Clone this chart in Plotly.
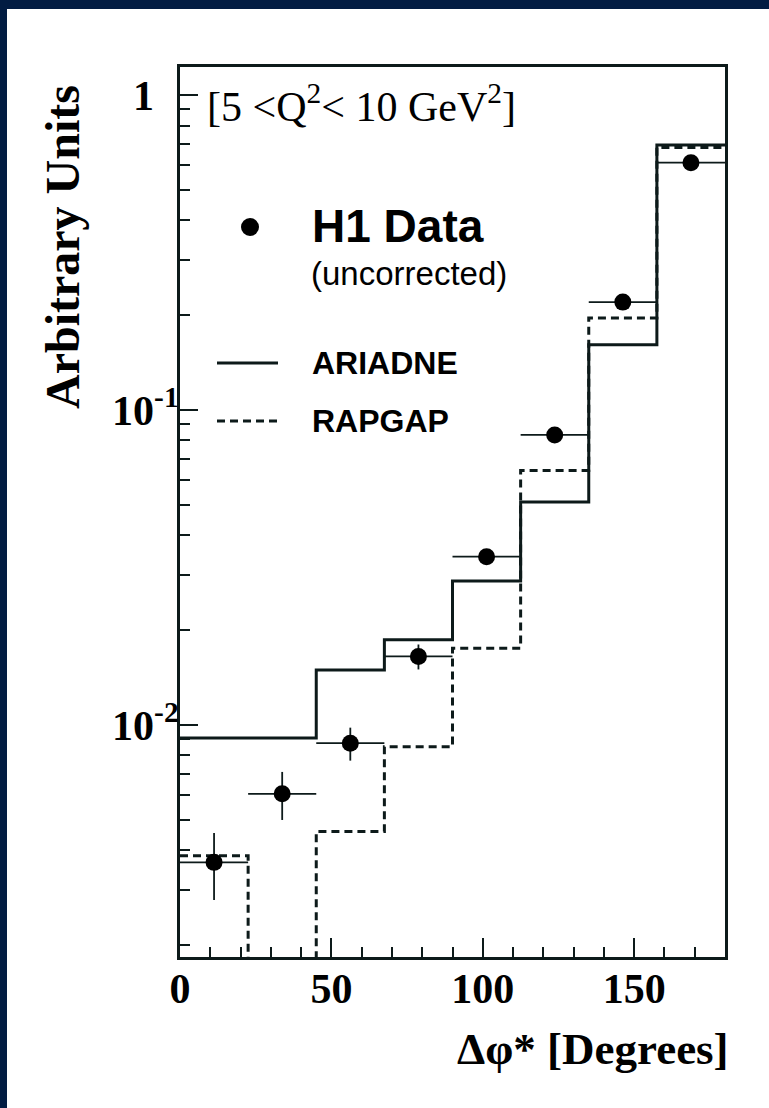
import plotly.graph_objects as go

# Delta-phi* bins [degrees]
bin_edges = [0, 22.5, 45, 67.5, 90, 112.5, 135, 157.5, 180]
bin_centres = [11.25, 33.75, 56.25, 78.75, 101.25, 123.75, 146.25, 168.75]
bin_halfwidth = [11.25] * 8

# H1 data (uncorrected), arbitrary units
h1_data = [0.00366, 0.00604, 0.00875, 0.0165, 0.0342, 0.0833, 0.220, 0.610]
h1_err = [0.00088, 0.00105, 0.00105, 0.0015, 0.0012, 0.002, 0.005, 0.012]

# Monte Carlo predictions
ariadne = [0.00909, 0.00909, 0.01495, 0.01862, 0.02865, 0.0510, 0.161, 0.694]
rapgap = [0.00384, 0.0012, 0.00459, 0.00853, 0.01752, 0.0642, 0.196, 0.682]

y_major = [0.01, 0.1, 1]
# the plain "1" sits further from the axis than the powers of ten
y_major_text = ["10<sup>-2</sup>", "10<sup>-1</sup>", "1\u2002\u200a"]
y_minor = [m * 10 ** e for e in (-3, -2, -1, 0) for m in range(2, 10)]
x_major = [0, 50, 100, 150]

W, H = 769, 1108
L, R, T, B = 180, 725, 67, 957          # plot frame in pixels
NAVY = "#021c42"
INK = "#0d1a1a"


def px(x):
    return (x - L) / (R - L)


def py(y):
    return (B - y) / (B - T)


fig = go.Figure()

# step histograms: repeat last value so the final bin closes at 180
fig.add_trace(go.Scatter(
    x=bin_edges, y=ariadne + ariadne[-1:], mode="lines", line_shape="hv",
    line=dict(color=INK, width=3), showlegend=False, hoverinfo="skip"))
fig.add_trace(go.Scatter(
    x=bin_edges, y=rapgap + rapgap[-1:], mode="lines", line_shape="hv",
    line=dict(color=INK, width=3, dash="8px,5px"), showlegend=False,
    hoverinfo="skip"))

fig.add_trace(go.Scatter(
    x=bin_centres, y=h1_data, mode="markers",
    marker=dict(symbol="circle", size=17, color="black"),
    error_x=dict(type="data", array=bin_halfwidth, color=INK, thickness=1.8,
                 width=0),
    error_y=dict(type="data", array=h1_err, color=INK, thickness=1.8, width=0),
    showlegend=False))

tick_font = dict(family="Liberation Serif", size=42, color="black",
                 weight="bold")

fig.update_xaxes(
    range=[0, 180], showline=True, linewidth=3, linecolor=INK, mirror=True,
    showgrid=False, zeroline=False, ticks="inside", ticklen=19, tickwidth=2,
    tickcolor=INK, tickvals=x_major, tickfont=tick_font,
    ticklabelstandoff=-7,
    minor=dict(ticks="inside", ticklen=10, tickwidth=2, tickcolor=INK,
               dtick=10, showgrid=False))

fig.update_yaxes(
    type="log", range=[-2.737, 0.089], showline=True, linewidth=3,
    linecolor=INK, mirror=True, showgrid=False, zeroline=False,
    ticks="inside", ticklen=18, tickwidth=2, tickcolor=INK,
    tickvals=y_major, ticktext=y_major_text, tickfont=tick_font,
    ticklabelstandoff=-10,
    minor=dict(ticks="inside", ticklen=10, tickwidth=2, tickcolor=INK,
               tickvals=y_minor, showgrid=False))

# white page on a navy surround
shapes = [dict(type="rect", xref="paper", yref="paper", layer="below",
               x0=px(7), x1=px(W + 5), y0=py(H + 5), y1=py(9),
               fillcolor="white", line=dict(width=0))]

# legend symbols
shapes.append(dict(type="circle", xref="paper", yref="paper",
                   x0=px(241), x1=px(259), y0=py(236), y1=py(218),
                   fillcolor="black", line=dict(width=0)))
shapes.append(dict(type="line", xref="paper", yref="paper",
                   x0=px(217), x1=px(278), y0=py(363), y1=py(363),
                   line=dict(color=INK, width=3)))
shapes.append(dict(type="line", xref="paper", yref="paper",
                   x0=px(217), x1=px(278), y0=py(421), y1=py(421),
                   line=dict(color=INK, width=3, dash="8px,5px")))

annotations = [
    dict(text="[5 <Q<sup>2</sup>< 10 GeV<sup>2</sup>]", x=px(205), y=py(103),
         xanchor="left", yanchor="middle",
         font=dict(family="Liberation Serif", size=42, color="black")),
    dict(text="H1 Data", x=px(310), y=py(226), xanchor="left",
         yanchor="middle",
         font=dict(family="Liberation Sans", size=46, color="black",
                   weight="bold")),
    dict(text="(uncorrected)", x=px(309), y=py(273), xanchor="left",
         yanchor="middle",
         font=dict(family="Liberation Sans", size=33, color="black")),
    dict(text="ARIADNE", x=px(310), y=py(363), xanchor="left",
         yanchor="middle",
         font=dict(family="Liberation Sans", size=32, color="black",
                   weight="bold")),
    dict(text="RAPGAP", x=px(310), y=py(421), xanchor="left",
         yanchor="middle",
         font=dict(family="Liberation Sans", size=32, color="black",
                   weight="bold")),
    dict(text="Arbitrary Units", x=px(62), y=py(247), textangle=-90,
         xanchor="center", yanchor="middle",
         font=dict(family="Liberation Serif", size=48, color="black",
                   weight="bold")),
    dict(text="Δφ* [Degrees]", x=px(731), y=py(1049), xanchor="right",
         yanchor="middle",
         font=dict(family="Liberation Serif", size=45, color="black",
                   weight="bold")),
]
for a in annotations:
    a.update(xref="paper", yref="paper", showarrow=False)

fig.update_layout(
    width=W, height=H, autosize=False,
    margin=dict(l=L, r=W - R, t=T, b=H - B, pad=0),
    paper_bgcolor=NAVY, plot_bgcolor="white",
    shapes=shapes, annotations=annotations, showlegend=False)

fig.write_html("out.html", config={"displayModeBar": False})
